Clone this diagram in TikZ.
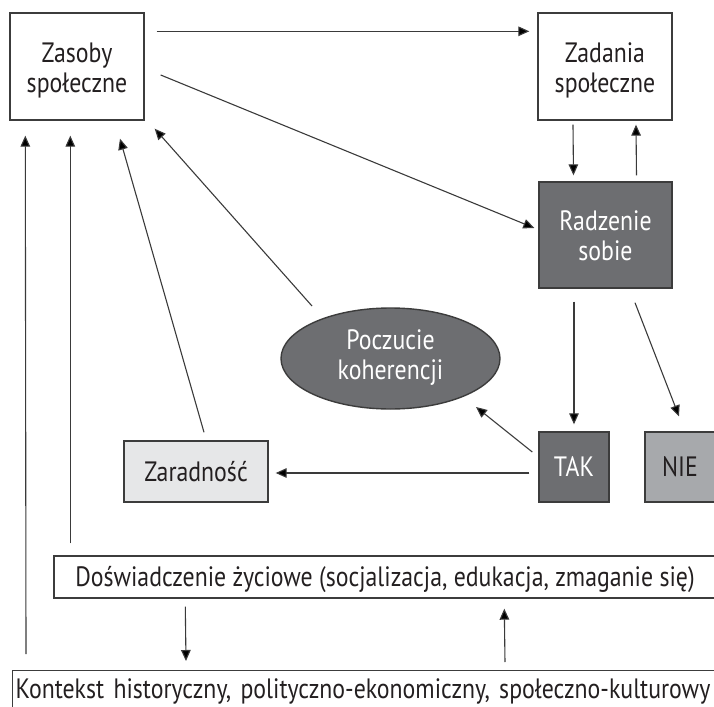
\documentclass[tikz,border=0pt]{standalone}
\usepackage{fontspec}
\setmainfont{PT Sans}[FakeStretch=0.85]
\usetikzlibrary{arrows.meta,shapes.geometric}
\definecolor{txt}{HTML}{231F20}
\definecolor{edge}{HTML}{3C3C3C}
\definecolor{linec}{HTML}{3A3A3A}
\definecolor{darkf}{HTML}{6D6E71}
\definecolor{midf}{HTML}{A7A9AC}
\definecolor{lightf}{HTML}{E6E7E8}
\newcommand{\twolines}[2][2.25pt]{\raisebox{#1}[0pt][0pt]{\begin{tabular}[t]{@{}c@{}}#2\end{tabular}}}
\tikzset{
  box/.style={draw=edge, line width=0.7pt, align=center, inner sep=0pt, text=txt},
  darkbox/.style={box, fill=darkf, text=white},
  conn/.style={line width=0.55pt, draw=linec, -{Triangle[length=5.5pt,width=4.8pt,fill=black]}},
}
\begin{document}
\begin{tikzpicture}[x=0.5pt,y=-0.5pt, font=\fontsize{14}{15}\selectfont]
\path[use as bounding box] (0,0) rectangle (714,707);
\clip (0,0) rectangle (714,707);

\node[box, minimum width=67pt, minimum height=53.5pt] (zas) at (77,66.5) {\twolines{Zasoby\\społeczne}};
\node[box, minimum width=67pt, minimum height=53.5pt] (zad) at (605,66.5) {\twolines{Zadania\\społeczne}};
\node[darkbox, minimum width=66.5pt, minimum height=53pt] (rad) at (605.5,235) {\twolines[2.5pt]{Radzenie\\sobie}};
\node[darkbox, ellipse, minimum width=109.5pt, minimum height=50.5pt] (koh) at (390.5,358.5) {\twolines[4.5pt]{Poczucie\\koherencji}};
\node[box, fill=lightf, minimum width=72pt, minimum height=30.5pt] (zar) at (196,471.5) {Zaradność};
\node[darkbox, minimum width=35pt, minimum height=35pt] (tak) at (574,467) {TAK};
\node[box, fill=midf, minimum width=35pt, minimum height=35pt] (nie) at (680,467) {NIE};
\node[box, minimum width=331pt, minimum height=21pt, text height=9.5pt, text depth=0pt] (dos) at (385,577)
  {Doświadczenie życiowe (socjalizacja, edukacja, zmaganie się)};
\node[box, anchor=north west, text width=380pt, align=left, inner xsep=1.5pt, inner ysep=4.5pt,
  text height=9.5pt, text depth=3pt] (kon) at (12,670)
  {Kontekst historyczny, polityczno-ekonomiczny, społeczno-kulturowy};

\draw[conn] ([shift={(12,19)}]zas.north east) -- ([shift={(-8,19)}]zad.north west);
\draw[conn] ([shift={(16,8.5)}]zas.east) -- ([shift={(-4,-7)}]rad.west);
\draw[conn] ([shift={(-32,4)}]zad.south) -- ([shift={(-32,-6)}]rad.north);
\draw[conn] ([shift={(31,-6)}]rad.north) -- ([shift={(31,4)}]zad.south);
\draw[conn] ([shift={(-31.5,13)}]rad.south) -- ([shift={(0,-7)}]tak.north);
\draw[conn] ([shift={(29.5,14)}]rad.south) -- ([shift={(-1,-15)}]nie.north);
\draw[conn] ([shift={(-6,-15)}]tak.west) -- ([shift={(85.5,48.5)}]koh.center);
\draw[conn] ([shift={(-9,6)}]tak.west) -- ([shift={(7,1.5)}]zar.east);
\draw[conn] ([shift={(8,-8)}]zar.north) -- ([shift={(43,18)}]zas.south);
\draw[conn] ([shift={(-78.5,-52.5)}]koh.center) -- ([shift={(10,8)}]zas.south east);
\draw[conn] ([shift={(14,-16)}]kon.north west) -- ([shift={(16,15)}]zas.south west);
\draw[conn] ([shift={(17,-12)}]dos.north west) -- ([shift={(61,15)}]zas.south west);
\draw[conn] ([shift={(132,8)}]dos.south west) -- ([shift={(174,-9)}]kon.north west);
\draw[conn] ([shift={(493,-8)}]kon.north west) -- ([shift={(451,10)}]dos.south west);
\end{tikzpicture}
\end{document}
